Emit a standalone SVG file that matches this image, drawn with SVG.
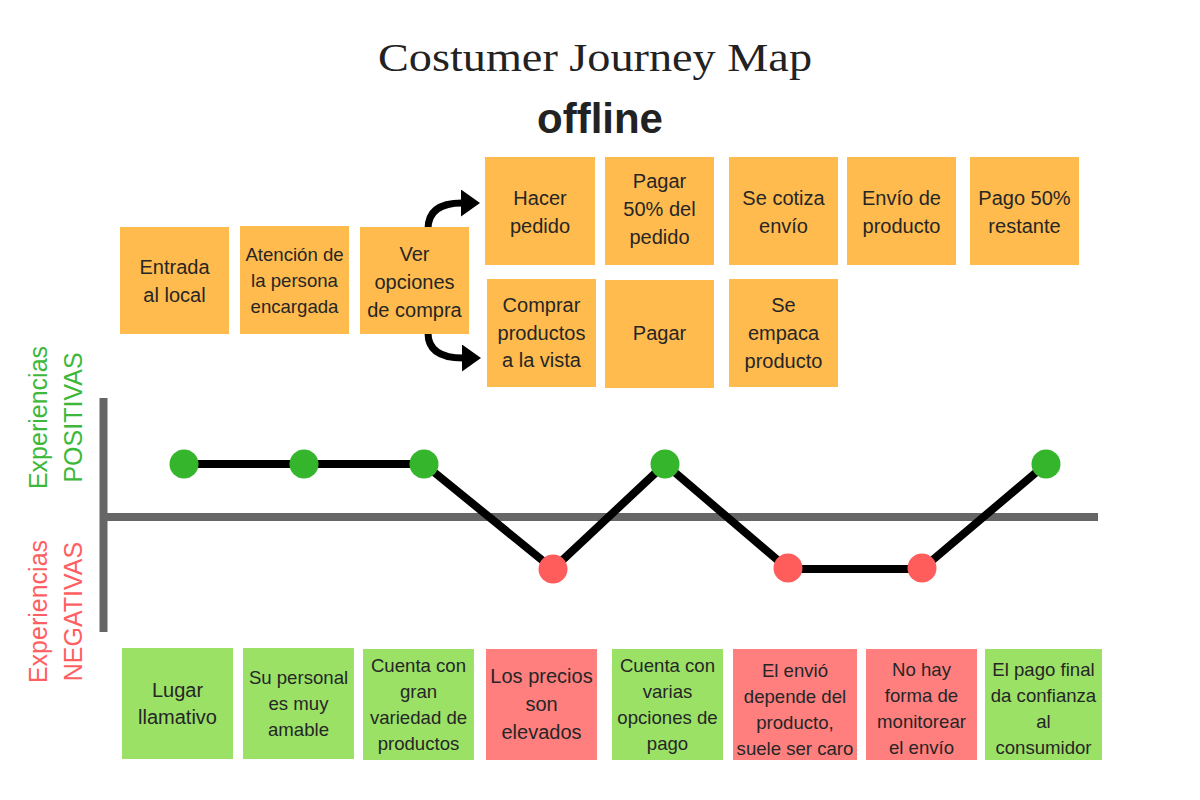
<svg xmlns="http://www.w3.org/2000/svg" width="1200" height="800" viewBox="0 0 1200 800">
  <defs>
    <style>
      .title { font-family: "Liberation Serif", "DejaVu Serif", serif; font-size: 40px; fill: #222; }
      .sub { font-family: "Liberation Sans", Arial, sans-serif; font-size: 42px; font-weight: bold; fill: #222; }
      .t { font-family: "Liberation Sans", Arial, sans-serif; fill: #262626; text-anchor: middle; }
      .f20 { font-size: 20px; }
      .f18 { font-size: 18.6px; }
      .or { fill: #FFBB4D; }
      .gr { fill: #9AE166; }
      .rd { fill: #FF7F7F; }
      .side { font-family: "Liberation Sans", Arial, sans-serif; font-size: 25px; text-anchor: middle; }
      .pos { fill: #3DB83A; }
      .neg { fill: #FF5E62; }
      .arrow { fill: none; stroke: #000; stroke-width: 7; }
      .axis { stroke: #666; stroke-width: 8; fill: none; }
      .journey { stroke: #000; stroke-width: 8; fill: none; stroke-linejoin: round; }
      .dotg { fill: #34B52B; }
      .dotr { fill: #FF5C5C; }
    </style>
    <marker id="head" markerUnits="userSpaceOnUse" markerWidth="19" markerHeight="27" viewBox="0 0 19 27" refX="1" refY="13.5" orient="auto">
      <path d="M0,0 L19,13.5 L0,27 Z" fill="#000"/>
    </marker>
  </defs>

  <rect width="1200" height="800" fill="#fff"/>

  <g id="title">
    <text class="title" x="595" y="71" text-anchor="middle" textLength="434" lengthAdjust="spacingAndGlyphs">Costumer Journey Map</text>
    <text class="sub" x="600" y="133" text-anchor="middle">offline</text>
  </g>

  <g id="connectors">
    <path class="arrow" d="M428,229 C428,211 440,203 462,203" marker-end="url(#head)"/>
    <path class="arrow" d="M428,333 C428,350 440,358 463,358" marker-end="url(#head)"/>
  </g>

  <g id="n-entrada"><rect class="or" x="120" y="227" width="109" height="107"/>
    <text class="t f20" x="174.5" y="274">Entrada</text><text class="t f20" x="174.5" y="302">al local</text></g>
  <g id="n-atencion"><rect class="or" x="240" y="226" width="109" height="108"/>
    <text class="t f18" x="294.5" y="260.5">Atención de</text><text class="t f18" x="294.5" y="286.5">la persona</text><text class="t f18" x="294.5" y="312.5">encargada</text></g>
  <g id="n-ver"><rect class="or" x="360" y="227" width="109" height="107"/>
    <text class="t f20" x="414.5" y="260.5">Ver</text><text class="t f20" x="414.5" y="289">opciones</text><text class="t f20" x="414.5" y="316.5">de compra</text></g>

  <g id="n-hacer"><rect class="or" x="485" y="157" width="110" height="108"/>
    <text class="t f20" x="540" y="205">Hacer</text><text class="t f20" x="540" y="233">pedido</text></g>
  <g id="n-pagar50"><rect class="or" x="605" y="157" width="109" height="108"/>
    <text class="t f20" x="659.5" y="188">Pagar</text><text class="t f20" x="659.5" y="216">50% del</text><text class="t f20" x="659.5" y="244">pedido</text></g>
  <g id="n-cotiza"><rect class="or" x="729" y="157" width="109" height="108"/>
    <text class="t f20" x="783.5" y="205">Se cotiza</text><text class="t f20" x="783.5" y="233">envío</text></g>
  <g id="n-envio"><rect class="or" x="847" y="157" width="109" height="108"/>
    <text class="t f20" x="901.5" y="205">Envío de</text><text class="t f20" x="901.5" y="233">producto</text></g>
  <g id="n-pago50"><rect class="or" x="970" y="157" width="109" height="108"/>
    <text class="t f20" x="1024.5" y="205">Pago 50%</text><text class="t f20" x="1024.5" y="233">restante</text></g>

  <g id="n-comprar"><rect class="or" x="487" y="279" width="109" height="108"/>
    <text class="t f20" x="541.5" y="312">Comprar</text><text class="t f20" x="541.5" y="340">productos</text><text class="t f20" x="541.5" y="367">a la vista</text></g>
  <g id="n-pagar"><rect class="or" x="605" y="280" width="109" height="108"/>
    <text class="t f20" x="659.5" y="340">Pagar</text></g>
  <g id="n-empaca"><rect class="or" x="729" y="279" width="109" height="108"/>
    <text class="t f20" x="783.5" y="312">Se</text><text class="t f20" x="783.5" y="340">empaca</text><text class="t f20" x="783.5" y="368">producto</text></g>

  <g id="side-labels">
    <text class="side pos" transform="translate(47,417.5) rotate(-90)">Experiencias</text>
    <text class="side pos" transform="translate(82,417.5) rotate(-90)">POSITIVAS</text>
    <text class="side neg" transform="translate(47,611.5) rotate(-90)">Experiencias</text>
    <text class="side neg" transform="translate(82,611.5) rotate(-90)">NEGATIVAS</text>
  </g>

  <g id="chart">
    <line class="axis" x1="103.5" y1="398" x2="103.5" y2="632"/>
    <line class="axis" x1="100" y1="517" x2="1098" y2="517"/>
    <polyline class="journey" points="184,464 304,464 424,464 553,569 665,464 788,569 922,569 1046,464"/>
    <circle class="dotg" cx="184" cy="464" r="14.5"/>
    <circle class="dotg" cx="304" cy="464" r="14.5"/>
    <circle class="dotg" cx="424" cy="464" r="14.5"/>
    <circle class="dotr" cx="553" cy="569" r="14.5"/>
    <circle class="dotg" cx="665" cy="464" r="14.5"/>
    <circle class="dotr" cx="788" cy="568" r="14.5"/>
    <circle class="dotr" cx="922" cy="568" r="14.5"/>
    <circle class="dotg" cx="1046" cy="464" r="14.5"/>
  </g>

  <g id="b-lugar"><rect class="gr" x="122" y="648" width="111" height="111"/>
    <text class="t f20" x="177.5" y="697">Lugar</text><text class="t f20" x="177.5" y="724">llamativo</text></g>
  <g id="b-personal"><rect class="gr" x="243" y="648" width="111" height="111"/>
    <text class="t f18" x="298.5" y="684">Su personal</text><text class="t f18" x="298.5" y="710">es muy</text><text class="t f18" x="298.5" y="736">amable</text></g>
  <g id="b-variedad"><rect class="gr" x="363" y="649" width="111" height="111"/>
    <text class="t f18" x="418.5" y="672">Cuenta con</text><text class="t f18" x="418.5" y="698">gran</text><text class="t f18" x="418.5" y="724">variedad de</text><text class="t f18" x="418.5" y="750">productos</text></g>
  <g id="b-precios"><rect class="rd" x="486" y="649" width="111" height="111"/>
    <text class="t f20" x="541.5" y="683">Los precios</text><text class="t f20" x="541.5" y="711">son</text><text class="t f20" x="541.5" y="739">elevados</text></g>
  <g id="b-opciones"><rect class="gr" x="612" y="649" width="111" height="111"/>
    <text class="t f18" x="667.5" y="672">Cuenta con</text><text class="t f18" x="667.5" y="698">varias</text><text class="t f18" x="667.5" y="724">opciones de</text><text class="t f18" x="667.5" y="750">pago</text></g>
  <g id="b-envio"><rect class="rd" x="733" y="649" width="124" height="111"/>
    <text class="t f18" x="795" y="677">El envió</text><text class="t f18" x="795" y="703">depende del</text><text class="t f18" x="795" y="729">producto,</text><text class="t f18" x="795" y="755">suele ser caro</text></g>
  <g id="b-monitorear"><rect class="rd" x="866" y="649" width="111" height="111"/>
    <text class="t f18" x="921.5" y="676">No hay</text><text class="t f18" x="921.5" y="702">forma de</text><text class="t f18" x="921.5" y="728">monitorear</text><text class="t f18" x="921.5" y="754">el envío</text></g>
  <g id="b-confianza"><rect class="gr" x="985" y="649" width="117" height="111"/>
    <text class="t f18" x="1043.5" y="676">El pago final</text><text class="t f18" x="1043.5" y="702">da confianza</text><text class="t f18" x="1043.5" y="728">al</text><text class="t f18" x="1043.5" y="754">consumidor</text></g>
</svg>
